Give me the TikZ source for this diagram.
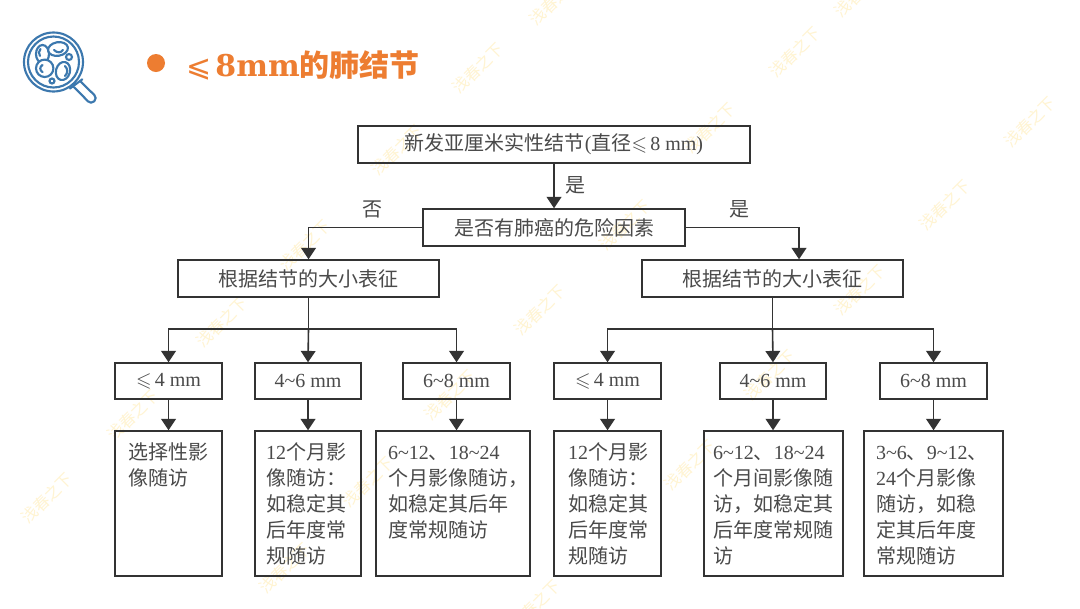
\documentclass[tikz,border=0pt]{standalone}
\usepackage{amssymb}
\usepackage{fontspec}
\setmainfont{Liberation Serif}
\newfontfamily\cjk{Noto Sans CJK SC}
\newfontfamily\titlefont{DejaVu Serif}
\newfontfamily\symfont{DejaVu Sans}
\newcommand{\zh}[1]{{\cjk #1}}
\usetikzlibrary{arrows.meta,calc}
\definecolor{lineC}{HTML}{333333}
\definecolor{textC}{HTML}{4A4A4A}
\definecolor{orangeC}{HTML}{ED7D31}
\definecolor{iconC}{HTML}{3C78AE}
\definecolor{wmC}{HTML}{FFF4D2}
\tikzset{
  x=0.75pt,y=-0.75pt,
  flowbox/.style={draw=lineC,line width=1.1pt,inner sep=0pt,text=textC,
    font=\fontsize{15}{19.5}\selectfont,minimum height=#1*0.75pt},
  flowbox/.default=36,
  resultbox/.style 2 args={draw=lineC,line width=1.1pt,text=textC,
    font=\fontsize{15}{19.5}\selectfont,align=left,inner ysep=0pt,
    inner xsep=#2*0.75pt,text width=(#1-2*#2)*0.75pt,
    text height=28*0.75pt,text depth=117*0.75pt},
  link/.style={draw=lineC,line width=1.2pt},
  arrowlink/.style={link,-{Triangle[length=8.5pt,width=11pt]}},
  yesno/.style={text=textC,font=\fontsize{15}{19.5}\selectfont\cjk,inner sep=0pt},
  watermark/.style={text=wmC,font=\fontsize{12}{14}\selectfont\cjk,rotate=45,inner sep=0pt},
  iconline/.style={draw=iconC,line width=1.6pt,line cap=round},
  iconcell/.style={iconline,fill=white},
}
\begin{document}
\begin{tikzpicture}
\useasboundingbox (0,0) rectangle (1080,608);
\fill[white] (0,0) rectangle (1080,608);
% watermarks
\begin{scope}
\clip (0,0) rectangle (1080,608);
\foreach \wx/\wy [count=\wi] in {47/498,133/415,222/322,305/245,397/150,478/68,555/0,
   285/568,368/482,450/395,540/310,625/225,710/128,795/52,860/-8,
   535/605,690/465,770/375,860/290,945/205,1030/122}
  \node[watermark] (wm\wi) at (\wx,\wy) {浅春之下};
\end{scope}
% icon
\draw[iconline] (53.5,62) circle (29.5);
\draw[iconline] (53.5,62) circle (25.5);
\draw[iconline,rounded corners=3.2pt] (80,81) -- (97.4,98) -- (91,104.4) -- (74,87);
\draw[iconline] (70,88.5) -- (82.3,79.3);
\draw[iconcell] (42.5,54) ellipse [x radius=6.5,y radius=9];
\draw[iconline] (40.5,49) .. controls (38.5,51) and (38.5,54) .. (40,56);
\draw[iconcell] (58,49) ellipse [x radius=10,y radius=6.8,rotate=10];
\draw[iconline] (54,50) .. controls (57,53) and (61,53) .. (63,50);
\draw[iconcell] (44.7,68.3) circle (8.7);
\draw[iconline] (42.5,65) .. controls (39.5,67) and (39.5,70) .. (42.5,72);
\draw[iconcell] (63,71) ellipse [x radius=7,y radius=9.2,rotate=-15];
\draw[iconline] (65,66) .. controls (68,69) and (68,73) .. (65,76);
\draw[iconline] (69,57) circle (3);
\draw[iconline] (52,81) circle (2.5);
% title
\node[circle,fill=orangeC,minimum size=13.5pt,inner sep=0pt] (bullet) at (156,63) {};
\node[anchor=base west,inner sep=0pt,text=orangeC,font=\fontsize{22.5}{26}\selectfont] (title) at (186,76)
  {{\symfont ⩽}\hspace{3pt}{\titlefont\bfseries 8mm}{\cjk\bfseries 的肺结节}};
% boxes
\node[flowbox=37,minimum width=392*0.75pt] (top) at (554,144.5)
  {\zh{新发亚厘米实性结节}(\zh{直径}$\leqslant$\,8 mm)};
\node[flowbox=37,minimum width=262*0.75pt] (risk) at (554,227.5) {\zh{是否有肺癌的危险因素}};
\node[flowbox=37,minimum width=261*0.75pt] (lsize) at (308.5,278.5) {\zh{根据结节的大小表征}};
\node[flowbox=37,minimum width=261*0.75pt] (rsize) at (772.5,278.5) {\zh{根据结节的大小表征}};
\node[flowbox,minimum width=107*0.75pt] (la) at (168.5,381) {$\leqslant$\,4 mm};
\node[flowbox,minimum width=106*0.75pt] (lb) at (308,381) {4\textasciitilde 6 mm};
\node[flowbox,minimum width=107*0.75pt] (lc) at (456.5,381) {6\textasciitilde 8 mm};
\node[flowbox,minimum width=107*0.75pt] (ra) at (607.5,381) {$\leqslant$\,4 mm};
\node[flowbox,minimum width=106*0.75pt] (rb) at (773,381) {4\textasciitilde 6 mm};
\node[flowbox,minimum width=107*0.75pt] (rc) at (933.5,381) {6\textasciitilde 8 mm};
% result boxes
\node[resultbox={107}{13}] (lra) at (168.5,503.5) {\zh{选择性影}\\\zh{像随访}};
\node[resultbox={106}{11}] (lrb) at (308,503.5) {12\zh{个月影}\\\zh{像随访：}\\\zh{如稳定其}\\\zh{后年度常}\\\zh{规随访}};
\node[resultbox={154}{12}] (lrc) at (453,503.5) {6\textasciitilde 12\zh{、}18\textasciitilde 24\\\zh{个月影像随访，}\\\zh{如稳定其后年}\\\zh{度常规随访}};
\node[resultbox={107}{14}] (rra) at (607.5,503.5) {12\zh{个月影}\\\zh{像随访：}\\\zh{如稳定其}\\\zh{后年度常}\\\zh{规随访}};
\node[resultbox={139}{9}] (rrb) at (773.5,503.5) {6\textasciitilde 12\zh{、}18\textasciitilde 24\\\zh{个月间影像随}\\\zh{访，如稳定其}\\\zh{后年度常规随}\\\zh{访}};
\node[resultbox={139}{12}] (rrc) at (933.5,503.5) {3\textasciitilde 6\zh{、}9\textasciitilde 12\zh{、}\\24\zh{个月影像}\\\zh{随访，如稳}\\\zh{定其后年度}\\\zh{常规随访}};
% connectors
\coordinate (lbus) at (308.5,329);
\coordinate (rbus) at (772.5,329);
\coordinate (rentry) at ($(rsize.north)+(26.5,0)$);
\draw[arrowlink] (top.south) -- (risk.north);
\draw[arrowlink] (risk.west) -| (lsize.north);
\draw[arrowlink] (risk.east) -| (rentry);
\draw[link] (lsize.south) -- (lbus);
\draw[link] (rsize.south) -- (rbus);
\draw[arrowlink] (lbus) -| (la.north);
\draw[arrowlink] (lbus) -- (lb.north);
\draw[arrowlink] (lbus) -| (lc.north);
\draw[arrowlink] (rbus) -| (ra.north);
\draw[arrowlink] (rbus) -- (rb.north);
\draw[arrowlink] (rbus) -| (rc.north);
\foreach \upper/\lower in {la/lra,lb/lrb,lc/lrc,ra/rra,rb/rrb,rc/rrc}
  \draw[arrowlink] (\upper.south) -- (\upper.south |- \lower.north);
% labels
\node[yesno] (yes1) at (575,185) {是};
\node[yesno] (no1) at (372,209) {否};
\node[yesno] (yes2) at (739,209) {是};
\end{tikzpicture}
\end{document}
